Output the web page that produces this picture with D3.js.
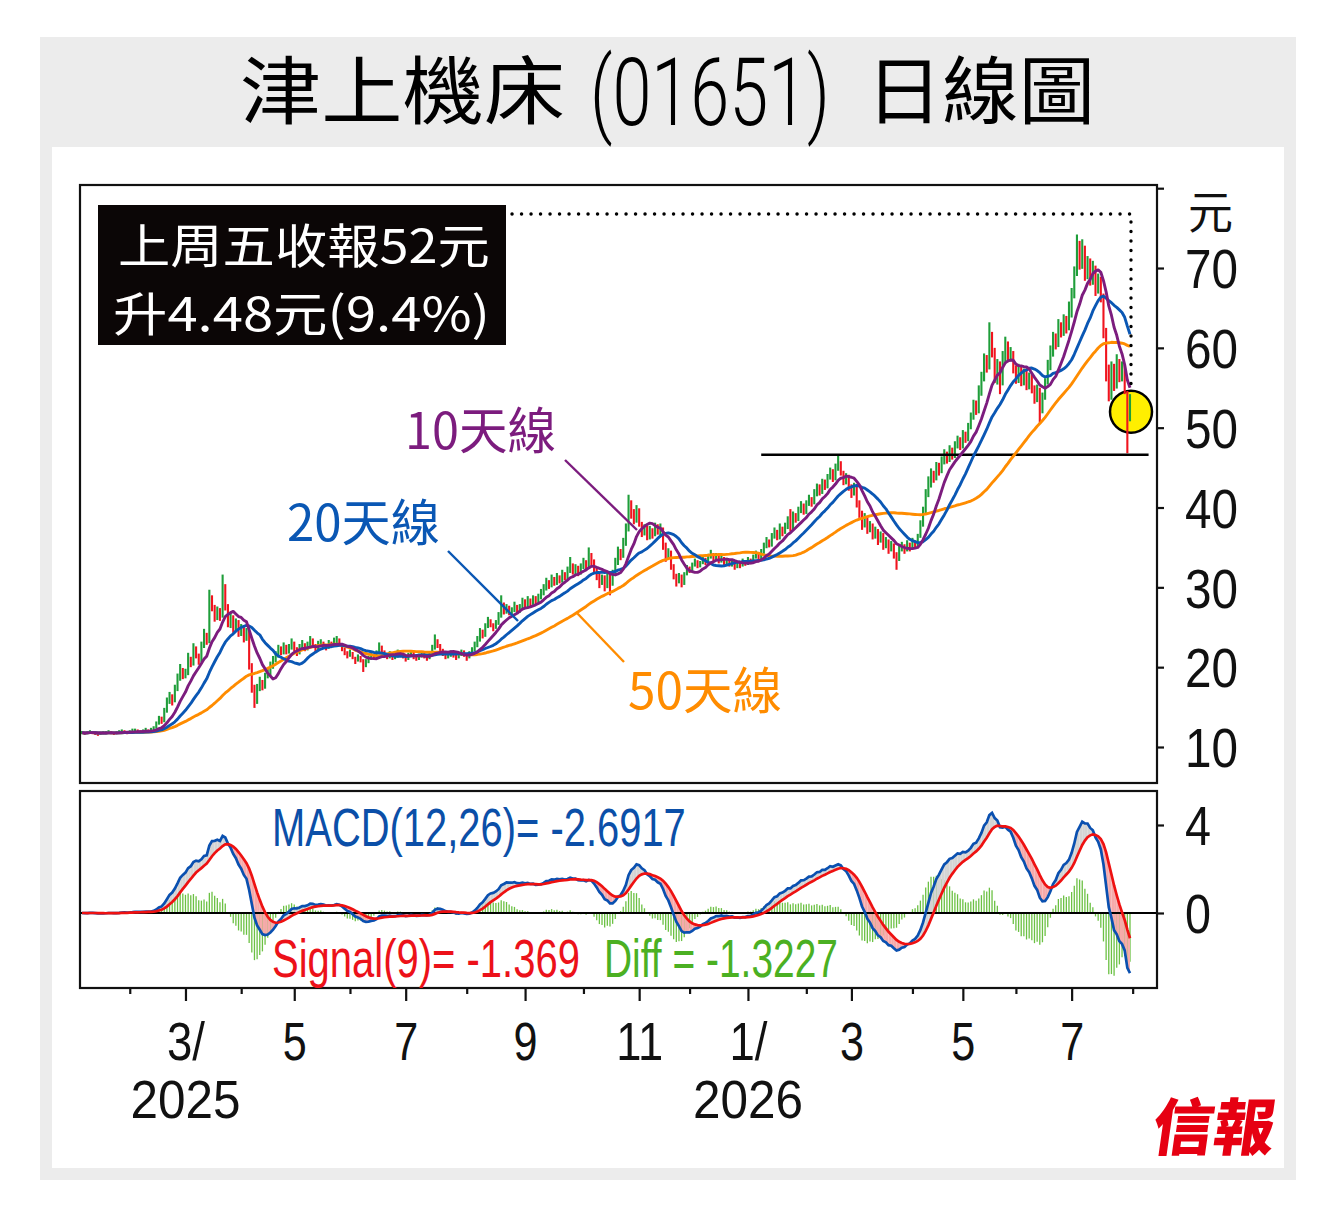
<!DOCTYPE html>
<html><head><meta charset="utf-8">
<script src="https://cdn.jsdelivr.net/npm/d3@7"></script>
<style>body{margin:0;background:#fff;} svg{display:block}</style>
</head><body>
<svg id="c" width="1333" height="1216"></svg>
<script>
// ---------- DATA (daily, read/estimated from the picture) ----------
const closes = [
11.8,11.7,11.8,11.9,11.8,11.7,11.6,11.7,11.8,11.8,
11.9,11.8,11.7,11.8,11.9,12.0,11.9,11.8,11.9,12.0,
12.1,12.0,11.9,12.0,12.1,12.0,12.1,
12.4,12.9,13.5,13.2,14.5,15.6,16.3,15.8,17.2,18.5,
19.6,18.9,19.2,21.0,20.4,22.2,21.5,20.8,22.6,23.9,
23.2,28.8,27.5,26.1,27.0,26.4,30.2,27.6,25.3,26.2,
24.8,25.6,24.2,25.0,23.6,24.4,
20.0,17.2,15.6,17.4,18.2,17.6,18.9,19.4,20.2,20.8,
21.5,22.3,21.8,22.6,21.9,22.4,23.0,22.2,21.8,22.5,22.9,22.3,22.8,23.4,
22.7,22.2,22.9,23.1,22.6,22.4,23.0,22.8,23.3,23.5,22.9,
22.3,21.8,21.5,21.9,21.2,20.8,21.3,20.9,20.2,20.7,21.1,21.4,
21.2,21.8,22.6,22.0,21.5,21.3,21.7,21.1,21.4,21.9,
21.6,21.3,21.0,21.5,21.8,21.2,21.0,21.4,21.7,21.3,
21.1,21.6,22.4,23.3,22.7,
22.0,21.6,21.3,21.5,21.8,21.4,21.2,21.6,21.9,21.5,21.3,21.7,22.2,
22.8,23.5,24.4,24.0,25.1,25.8,25.2,24.9,25.6,26.4,
27.8,26.9,27.4,26.8,27.1,27.6,27.0,27.5,
28.2,27.7,28.4,27.9,28.6,28.1,28.8,29.3,
29.9,30.6,30.2,31.0,30.5,31.3,30.8,31.6,31.2,32.0,32.8,31.9,
32.4,31.8,32.6,33.1,32.5,34.0,33.2,32.1,31.4,
30.6,31.2,30.1,31.5,30.4,31.8,
33.2,34.5,33.9,35.6,37.2,
40.3,39.1,38.4,39.6,38.0,
36.8,37.5,36.2,37.3,36.6,37.8,36.9,37.4,
35.2,33.8,34.4,32.6,31.5,
30.8,31.3,30.4,31.6,
32.4,32.0,32.8,33.3,32.6,33.0,33.6,33.1,33.8,
34.2,33.5,34.0,33.2,33.7,32.9,
33.4,32.8,33.2,32.5,33.0,32.7,33.3,32.9,33.5,33.1,33.8,34.2,33.6,34.4,
35.1,35.8,35.3,36.4,37.0,36.2,37.5,36.8,37.6,38.3,
37.4,39.0,38.5,39.6,40.2,39.4,40.5,41.1,40.6,
41.8,42.5,41.9,43.2,42.6,43.8,44.5,43.6,44.9,45.3,44.4,
43.2,43.9,42.5,41.8,42.6,40.5,39.2,37.8,
38.6,37.1,37.9,36.4,37.2,35.8,36.6,35.1,35.9,34.6,35.4,34.0,33.6,34.8,
35.3,34.6,35.5,34.9,35.8,35.2,36.3,
37.8,39.5,41.6,42.8,
44.2,43.6,45.1,44.5,45.8,46.6,45.9,47.2,46.5,
47.8,48.4,47.6,49.2,48.6,50.1,51.3,52.8,52.1,54.5,56.2,
58.4,57.6,60.8,59.5,
56.2,57.8,55.6,
58.9,60.2,58.7,59.4,
57.3,56.1,57.5,55.8,56.9,55.2,56.4,54.9,53.6,
54.8,52.3,53.9,55.7,
57.8,59.6,61.2,60.4,62.8,61.9,63.5,62.6,64.1,
66.8,69.5,72.3,70.6,71.8,69.2,70.4,
68.5,69.8,67.2,68.4,66.5,
61.8,56.5,54.2,
57.6,55.3,58.4,56.2,57.5,54.8,
47.52,52.0];

const highs = [
12.0,11.9,12.0,12.1,12.0,11.9,11.8,11.9,12.0,12.0,
12.1,12.0,11.9,12.0,12.1,12.2,12.1,12.0,12.1,12.3,
12.3,12.2,12.1,12.2,12.4,12.2,12.4,
12.6,13.2,13.9,13.8,14.9,16.2,16.9,16.6,17.8,19.2,
20.4,19.9,19.8,21.8,21.3,23.0,22.6,21.7,23.2,24.8,
24.3,29.7,29.0,27.8,27.6,27.4,31.6,30.4,27.9,26.9,
26.5,26.1,25.9,25.4,25.2,24.9,
24.6,20.5,17.8,17.9,18.8,18.4,19.3,19.9,20.7,21.4,
22.0,22.8,22.6,23.1,22.8,22.9,23.6,23.2,22.5,22.9,23.4,23.0,23.2,23.9,
23.6,22.9,23.3,23.5,23.2,22.9,23.4,23.2,23.7,23.9,23.6,
23.0,22.4,22.0,22.2,21.9,21.3,21.6,21.4,21.0,21.0,21.4,21.8,
21.6,22.1,23.1,22.7,22.1,21.7,22.0,21.8,21.7,22.2,
22.0,21.8,21.4,21.8,22.1,21.9,21.4,21.7,22.0,21.8,
21.5,21.9,22.8,24.1,23.5,
22.9,22.3,21.8,21.8,22.1,22.0,21.6,21.9,22.2,22.1,21.7,22.0,22.5,
23.2,23.9,24.9,24.7,25.5,26.3,26.0,25.5,25.9,26.9,
29.0,28.1,27.9,27.7,27.5,28.2,27.8,27.9,
28.7,28.5,28.9,28.6,29.0,28.9,29.2,29.8,
30.4,31.2,30.9,31.6,31.3,31.8,31.5,32.2,31.9,32.6,33.8,33.0,
32.9,32.7,33.0,33.7,33.4,35.0,34.3,33.5,32.4,
31.7,31.6,31.5,31.9,31.6,32.2,
33.7,35.1,34.8,36.2,38.0,
41.6,40.9,39.8,40.3,39.9,
38.2,37.9,37.7,37.7,37.4,38.1,37.9,38.0,
37.5,35.6,34.9,34.6,32.9,
31.7,31.8,31.6,31.9,
32.8,32.6,33.1,33.6,33.4,33.3,34.0,33.7,34.2,
34.7,34.3,34.3,34.1,34.0,33.8,
33.7,33.5,33.5,33.3,33.3,33.1,33.6,33.4,33.8,33.6,34.1,34.6,34.3,34.8,
35.6,36.3,36.0,36.8,37.5,37.2,38.0,37.6,38.1,38.9,
39.8,39.5,39.3,40.1,40.8,40.5,40.9,41.6,41.3,
42.3,43.0,42.9,43.6,43.5,44.2,45.0,44.8,45.5,46.6,45.8,
44.6,44.3,44.1,42.9,43.1,42.8,40.9,39.6,
39.3,38.8,38.3,38.0,37.6,37.3,37.0,36.8,36.3,36.0,35.8,35.5,34.4,35.2,
35.7,35.4,35.9,35.6,36.2,35.9,36.7,
38.4,40.1,42.3,43.9,
44.9,44.6,45.7,45.6,46.4,47.3,47.0,47.8,47.5,
48.3,49.0,48.8,49.7,49.5,50.6,51.9,53.5,53.4,55.3,57.0,
59.3,59.1,63.2,62.0,
60.0,58.6,58.3,
59.6,61.4,60.8,60.1,
59.6,57.8,58.0,57.6,57.4,57.1,56.9,56.7,55.3,
55.4,55.0,54.4,56.2,
58.5,60.3,62.0,61.8,63.6,63.2,64.2,64.0,65.8,
67.5,70.2,74.2,73.4,73.6,72.8,71.5,
71.2,70.9,70.3,69.3,68.9,
66.8,62.5,57.9,
58.3,58.0,59.2,58.6,58.3,57.9,
54.6,54.2];

const lows = [
11.6,11.5,11.6,11.7,11.6,11.5,11.4,11.5,11.6,11.6,
11.7,11.6,11.5,11.6,11.7,11.8,11.7,11.6,11.7,11.8,
11.9,11.8,11.7,11.8,11.9,11.8,11.9,
12.0,12.3,12.8,12.9,13.1,14.3,15.4,15.2,15.6,17.0,
18.3,18.5,18.6,19.0,20.0,20.2,21.1,20.3,20.6,22.4,
22.8,23.0,27.0,25.7,25.9,25.8,26.2,27.1,25.0,24.9,
24.3,24.5,23.8,23.9,23.1,23.3,
19.7,16.8,14.9,15.4,17.0,17.1,17.3,18.6,19.0,19.8,
20.6,21.2,21.5,21.6,21.6,21.7,22.2,22.0,21.4,21.6,22.3,22.0,22.1,22.6,
22.5,21.9,22.1,22.6,22.4,22.1,22.3,22.5,22.7,23.0,22.6,
22.0,21.5,21.1,21.3,21.0,20.4,20.7,20.6,19.4,20.0,20.5,20.9,
21.0,21.0,21.6,21.8,21.3,21.0,21.1,20.9,21.0,21.2,
21.4,21.1,20.7,20.9,21.3,21.0,20.8,20.9,21.2,21.1,
20.8,21.0,21.4,22.2,22.4,
21.8,21.4,21.0,21.1,21.3,21.2,20.9,21.1,21.4,21.3,20.8,21.1,21.5,
22.0,22.5,23.2,23.6,23.8,24.9,25.0,24.5,24.8,25.3,
26.2,26.6,26.7,26.5,26.6,26.9,26.8,26.8,
27.3,27.4,27.5,27.6,27.8,27.9,27.9,28.5,
29.0,29.6,29.8,30.0,30.2,30.3,30.5,30.6,30.9,31.0,31.8,31.6,
31.5,31.4,31.6,32.3,32.1,32.3,32.8,31.8,30.9,
29.9,30.3,29.5,29.9,29.0,30.2,
31.6,32.8,33.4,33.7,35.2,
37.0,38.6,37.9,38.1,37.6,
36.3,36.5,35.9,36.0,36.1,36.4,36.6,36.5,
34.7,33.2,33.5,32.2,31.0,
30.1,30.5,30.0,30.3,
31.5,31.8,31.9,32.6,32.4,32.5,32.9,32.8,33.0,
33.6,33.2,33.3,33.0,33.1,32.6,
32.7,32.6,32.6,32.2,32.4,32.4,32.6,32.7,32.8,32.9,33.0,33.6,33.4,33.4,
34.2,34.9,35.0,35.1,36.1,35.9,36.0,36.4,36.7,37.3,
37.0,37.2,38.1,38.3,39.3,39.1,39.2,40.2,40.1,
40.4,41.4,41.5,41.7,42.2,42.4,43.5,43.2,43.4,44.6,44.0,
42.8,42.9,42.1,41.2,41.5,40.0,38.7,37.2,
37.5,36.7,36.9,36.0,36.1,35.3,35.6,34.7,34.9,34.2,34.5,33.6,32.2,33.3,
34.5,34.2,34.5,34.5,34.8,34.9,35.0,
36.2,37.6,39.2,41.3,
42.5,43.1,43.4,44.0,44.3,45.4,45.5,45.7,46.0,
46.2,47.4,47.2,47.4,48.1,48.3,49.8,51.0,51.6,51.8,54.0,
55.8,56.9,57.3,58.8,
55.6,55.4,54.2,
55.3,58.1,58.2,58.3,
56.8,55.5,55.6,55.2,55.3,54.7,54.8,54.3,53.0,
53.2,50.6,51.8,53.5,
55.4,57.2,58.9,59.8,60.1,61.3,61.5,61.8,62.2,
63.8,66.2,69.0,69.8,69.9,68.4,68.6,
67.8,67.9,66.5,66.8,65.7,
61.2,55.8,53.3,
53.5,54.6,54.9,55.7,55.8,54.2,
46.8,50.8];

// month ticks: trading-day index where each month starts (Feb 2025 ... Aug 2026)
const monthTickIdx = [18,39,60,80,101,122,145,167,189,210,229,251,273,290,313,332,352,373,396];
const monthLabels  = ["","3/","","5","","7","","9","","11","","1/","","3","","5","","7",""];
const yearLabels   = ["","2025","","","","","","","","","","2026","","","","","","",""];
const priceTicks = [10,20,30,40,50,60,70,80];
const macdTicks = [0,4];
const maPeriods = [10,20,50];
const maColors = ["#7c1c7e","#0a57b4","#ff8c00"];
const supportLevel = 46.6, supportFrom = 256, supportTo = 402;
const macdText = "MACD(12,26)= -2.6917", signalText = "Signal(9)= -1.369", diffText = "Diff = -1.3227";

// ---------- DRAW ----------
const svg = d3.select("#c");
const CJK = "'Noto Sans CJK TC','Noto Sans CJK SC',sans-serif";
const NUM = "'Liberation Sans Narrow','Liberation Sans',Arial,sans-serif";
const n = Math.min(closes.length, highs.length, lows.length);

svg.append("rect").attr("x",40).attr("y",37).attr("width",1256).attr("height",1143).attr("fill","#ececec");
svg.append("rect").attr("x",52).attr("y",147).attr("width",1232).attr("height",1021).attr("fill","#ffffff");

// text condensed/stretched horizontally to a target width via transform
function txt(x,y,s,o){
  const t = svg.append("text").attr("x",0).attr("y",0).text(s)
    .attr("font-family",o.font||CJK).attr("font-size",o.size).attr("fill",o.fill||"#000")
    .attr("text-anchor",o.anchor||"start");
  if(o.weight) t.attr("font-weight",o.weight);
  let sx = 1;
  if(o.len){ const w = t.node().getComputedTextLength(); if(w>0) sx = o.len/w; }
  t.attr("transform",`translate(${x},${y}) ${o.skew?`skewX(${o.skew})`:""} scale(${sx},1)`);
  return t;
}

// title
txt(240,118,"津上機床",{size:74,len:325});
txt(590,125,"(01651)",{font:"Roboto,'Liberation Sans',sans-serif",weight:300,size:95,len:240});
txt(866,118,"日線圖",{size:74,len:229});

const x = d3.scaleLinear().domain([0,395]).range([82,1130]);
const y = d3.scaleLinear().domain([5.49,80.4]).range([783,185]);
const ym = d3.scaleLinear().domain([-3.41,5.545]).range([988,791]);

// yellow circle (behind candles)
svg.append("circle").attr("cx",x(n-1)+1).attr("cy",y(closes[n-1])).attr("r",21)
  .attr("fill","#ffef00").attr("stroke","#000").attr("stroke-width",2.5);

// candles
const up="#1f9e3a", dn="#f0141e";
svg.append("g").selectAll("line").data(d3.range(n)).join("line")
  .attr("x1",i=>x(i)).attr("x2",i=>x(i))
  .attr("y1",i=>y(highs[i])).attr("y2",i=>y(lows[i]))
  .attr("stroke",i=> (i>0 && closes[i]<closes[i-1]) ? dn : up)
  .attr("stroke-width",2.1);

svg.append("line").attr("x1",x(supportFrom)).attr("x2",x(supportTo))
  .attr("y1",y(supportLevel)).attr("y2",y(supportLevel)).attr("stroke","#000").attr("stroke-width",2.5);

// moving averages
function sma(p){ return closes.slice(0,n).map((d,i)=>d3.mean(closes.slice(Math.max(0,i-p+1),i+1))); }
const lineP = d3.line().x((d,i)=>x(i)).y(d=>y(d));
[2,1,0].forEach(k=>{
  svg.append("path").attr("d",lineP(sma(maPeriods[k]))).attr("fill","none")
    .attr("stroke",maColors[k]).attr("stroke-width",2.9).attr("stroke-linejoin","round");
});

// annotation box
svg.append("rect").attr("x",98).attr("y",205).attr("width",408).attr("height",140).attr("fill","#0b0606");
txt(118,263,"上周五收報52元",{size:47,fill:"#fff",len:372});
txt(113,331,"升4.48元(9.4%)",{size:47,fill:"#fff",len:377});

// dotted leader
svg.append("path").attr("d",`M512,214 H${x(n-1)+1} V${y(closes[n-1])-24}`)
  .attr("fill","none").attr("stroke","#000").attr("stroke-width",3.4)
  .attr("stroke-linecap","round").attr("stroke-dasharray","0.1 9.4");

// MA labels + pointers
txt(405,449,"10天線",{size:50,fill:maColors[0],len:151});
svg.append("line").attr("x1",565).attr("y1",460).attr("x2",637).attr("y2",530).attr("stroke",maColors[0]).attr("stroke-width",2.4);
txt(287,541,"20天線",{size:50,fill:maColors[1],len:153});
svg.append("line").attr("x1",448).attr("y1",551).attr("x2",518).attr("y2",621).attr("stroke",maColors[1]).attr("stroke-width",2.4);
txt(628,709,"50天線",{size:50,fill:maColors[2],len:154});
svg.append("line").attr("x1",577).attr("y1",613).attr("x2",624).attr("y2",662).attr("stroke",maColors[2]).attr("stroke-width",2.4);

// price frame + axis
svg.append("rect").attr("x",80).attr("y",185).attr("width",1077).attr("height",598)
  .attr("fill","none").attr("stroke","#111").attr("stroke-width",2.2);
const ay = svg.append("g").attr("transform","translate(1157,0)")
  .call(d3.axisRight(y).tickValues(priceTicks).tickSize(7).tickPadding(21).tickFormat(d=>d===80?"":d));
ay.select(".domain").remove();
ay.selectAll("line").attr("stroke","#111").attr("stroke-width",2.2);
ay.selectAll("text").attr("font-family",NUM).attr("font-size",55).attr("fill","#111").attr("dy","0.36em")
  .filter(d=>d!==80).attr("textLength",53).attr("lengthAdjust","spacingAndGlyphs");
txt(1188,229,"元",{size:45,fill:"#111"});

// ---------- MACD ----------
function ema(arr,p){ const a=2/(p+1); const out=[]; arr.forEach((v,i)=>out.push(i===0?v:a*v+(1-a)*out[i-1])); return out; }
const c = closes.slice(0,n);
const e12 = ema(c,12), e26 = ema(c,26);
const macd = e12.map((v,i)=>v-e26[i]);
const signal = ema(macd,9);
const hist = macd.map((v,i)=>v-signal[i]);
const histScale = 1.4;

const gm = svg.append("g");
gm.selectAll("line.h").data(d3.range(n)).join("line").attr("class","h")
  .attr("x1",i=>x(i)).attr("x2",i=>x(i)).attr("y1",ym(0)).attr("y2",i=>ym(hist[i]*histScale))
  .attr("stroke","#6cc144").attr("stroke-width",1.3);
for(let i=0;i<n-1;i++){
  const pos = (macd[i]+macd[i+1]-signal[i]-signal[i+1])>0;
  gm.append("path").attr("d",`M${x(i)},${ym(macd[i])}L${x(i+1)},${ym(macd[i+1])}L${x(i+1)},${ym(signal[i+1])}L${x(i)},${ym(signal[i])}Z`)
    .attr("fill",pos?"#d4d4d4":"#f6aaaa").attr("stroke","none");
}
gm.append("line").attr("x1",80).attr("x2",1157).attr("y1",ym(0)).attr("y2",ym(0)).attr("stroke","#000").attr("stroke-width",2);
const lineM = d3.line().x((d,i)=>x(i)).y(d=>ym(d));
gm.append("path").attr("d",lineM(macd)).attr("fill","none").attr("stroke","#0a50b0").attr("stroke-width",2.7);
gm.append("path").attr("d",lineM(signal)).attr("fill","none").attr("stroke","#ee1111").attr("stroke-width",2.7);

svg.append("rect").attr("x",80).attr("y",791).attr("width",1077).attr("height",197)
  .attr("fill","none").attr("stroke","#111").attr("stroke-width",2.2);
const am = svg.append("g").attr("transform","translate(1157,0)")
  .call(d3.axisRight(ym).tickValues(macdTicks).tickSize(7).tickPadding(21));
am.select(".domain").remove();
am.selectAll("line").attr("stroke","#111").attr("stroke-width",2.2);
am.selectAll("text").attr("font-family",NUM).attr("font-size",55).attr("fill","#111").attr("dy","0.36em")
  .attr("textLength",26).attr("lengthAdjust","spacingAndGlyphs");

txt(272,846,macdText,{font:NUM,size:53,fill:"#0b4fa8",len:414});
txt(272,977,signalText,{font:NUM,size:53,fill:"#ec1119",len:308});
txt(604,977,diffText,{font:NUM,size:53,fill:"#4bb022",len:234});

// ---------- X axis ----------
const majorIdx = monthTickIdx.filter((d,i)=>monthLabels[i]!=="");
const minorIdx = monthTickIdx.filter((d,i)=>monthLabels[i]==="");
const axMinor = svg.append("g").attr("transform","translate(0,988)")
  .call(d3.axisBottom(x).tickValues(minorIdx).tickSize(6).tickFormat(""));
const axMajor = svg.append("g").attr("transform","translate(0,988)")
  .call(d3.axisBottom(x).tickValues(majorIdx).tickSize(13).tickPadding(21)
    .tickFormat(d=>monthLabels[monthTickIdx.indexOf(d)]));
[axMinor,axMajor].forEach(a=>{ a.select(".domain").remove(); a.selectAll("line").attr("stroke","#111").attr("stroke-width",2.2); });
axMajor.selectAll("text").attr("font-family",NUM).attr("font-size",53).attr("fill","#111").attr("dy","0.71em")
  .each(function(d){ const s=monthLabels[monthTickIdx.indexOf(d)];
    const w = s.length===1 ? 24 : (s.includes("/") ? 38 : 47);
    d3.select(this).attr("textLength",w).attr("lengthAdjust","spacingAndGlyphs"); });
monthTickIdx.forEach((d,i)=>{ if(yearLabels[i]) txt(x(d),1118,yearLabels[i],{font:NUM,size:53,fill:"#111",anchor:"middle",len:110}); });

// logo
txt(1150,1150,"信報",{size:62,fill:"#e60012",weight:900,len:122,skew:-8});
</script>
</body></html>
